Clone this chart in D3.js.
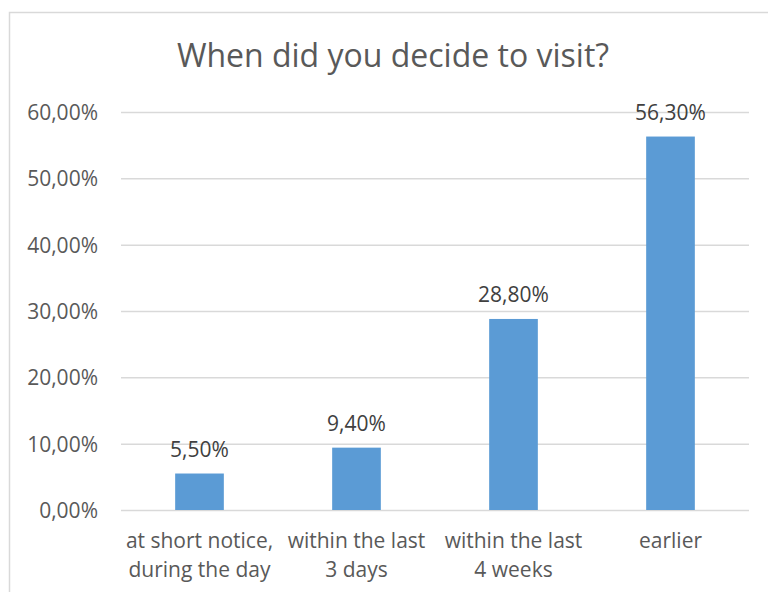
<!DOCTYPE html>
<html><head><meta charset="utf-8">
<script src="https://cdn.jsdelivr.net/npm/d3@7"></script>
<style>body{margin:0;background:#fff;}svg{display:block;}text{font-family:"Open Sans",sans-serif;}</style>
</head><body>
<script>
const categories = [["at short notice,","during the day"],["within the last","3 days"],["within the last","4 weeks"],["earlier"]];
const values = [5.5, 9.4, 28.8, 56.3];
const valueLabels = ["5,50%","9,40%","28,80%","56,30%"];
const yTicks = [0,10,20,30,40,50,60];
const yTickLabels = ["0,00%","10,00%","20,00%","30,00%","40,00%","50,00%","60,00%"];
const title = "When did you decide to visit?";

const W=768,H=592;
const svg=d3.select("body").append("svg").attr("width",W).attr("height",H);
svg.append("rect").attr("x",9.5).attr("y",12.5).attr("width",W).attr("height",H).attr("fill","#fff").attr("stroke","#d9d9d9").attr("stroke-width",1.5);

const x=d3.scaleBand().domain(d3.range(values.length)).range([121,749]).paddingInner(0.69).paddingOuter(0.345);
const y=d3.scaleLinear().domain([0,60]).range([510,112]);

svg.append("text").attr("x",393).attr("y",67).attr("text-anchor","middle").attr("font-size",32).attr("fill","#595959").text(title);

const yAxis=d3.axisLeft(y).tickValues(yTicks).tickFormat((d,i)=>yTickLabels[i]).tickSize(-(749-121)).tickPadding(23);
const gy=svg.append("g").attr("transform","translate(121,0)").call(yAxis);
gy.select(".domain").remove();
gy.selectAll(".tick line").attr("stroke","#d9d9d9").attr("stroke-width",1.5);
gy.selectAll(".tick text").attr("font-size",21).attr("fill","#595959").attr("font-family","Open Sans, sans-serif").attr("dy","0.35em");

svg.append("g").selectAll("rect").data(values).join("rect")
 .attr("x",(d,i)=>x(i)).attr("y",d=>y(d)).attr("width",x.bandwidth()).attr("height",d=>y(0)-y(d))
 .attr("fill","#5b9bd5");

svg.append("g").selectAll("text").data(values).join("text")
 .attr("x",(d,i)=>x(i)+x.bandwidth()/2).attr("y",d=>y(d)-17).attr("text-anchor","middle")
 .attr("font-size",21).attr("fill","#404040").text((d,i)=>valueLabels[i]);

const cg=svg.append("g").selectAll("text").data(categories).join("text")
 .attr("x",(d,i)=>x(i)+x.bandwidth()/2).attr("y",548).attr("text-anchor","middle")
 .attr("font-size",21).attr("fill","#595959");
cg.selectAll("tspan").data(d=>d).join("tspan").attr("x",function(){return this.parentNode.getAttribute("x");}).attr("dy",(d,i)=>i?29:0).text(d=>d);
</script>
</body></html>
